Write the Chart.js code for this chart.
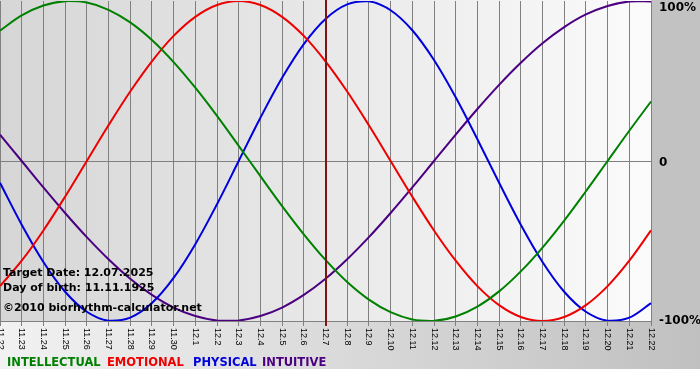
<!DOCTYPE html>
<html>
<head>
<meta charset="utf-8">
<script src="https://cdn.jsdelivr.net/npm/chart.js@4/dist/chart.umd.min.js"></script>
<style>
  html, body { margin: 0; padding: 0; background: #fff; }
  #bioChart { display: block; }
</style>
</head>
<body>
<canvas id="bioChart" width="700" height="380"></canvas>
<script>
// Biorhythm data (-1 .. 1)
const days = ["11.22", "11.23", "11.24", "11.25", "11.26", "11.27", "11.28", "11.29", "11.30",
    "12.1", "12.2", "12.3", "12.4", "12.5", "12.6", "12.7", "12.8", "12.9", "12.10", "12.11",
    "12.12", "12.13", "12.14", "12.15", "12.16", "12.17", "12.18", "12.19", "12.20", "12.21", "12.22"];

const intellectual = [0.815, 0.910, 0.972, 0.999, 0.990, 0.945, 0.866, 0.756, 0.618, 0.458, 0.282, 0.095,
    -0.095, -0.282, -0.458, -0.618, -0.756, -0.866, -0.945, -0.990, -0.999, -0.972, -0.910, -0.815,
    -0.690, -0.541, -0.372, -0.189, 0.000, 0.189, 0.372];
const emotional = [-0.782, -0.623, -0.434, -0.223, 0.000, 0.223, 0.434, 0.623, 0.782, 0.901, 0.975, 1.000,
    0.975, 0.901, 0.782, 0.623, 0.434, 0.223, 0.000, -0.223, -0.434, -0.623, -0.782, -0.901,
    -0.975, -1.000, -0.975, -0.901, -0.782, -0.623, -0.434];
const physical = [-0.136, -0.398, -0.631, -0.817, -0.942, -0.998, -0.979, -0.888, -0.731, -0.520, -0.270, 0.000,
    0.270, 0.520, 0.731, 0.888, 0.979, 0.998, 0.942, 0.817, 0.631, 0.398, 0.136, -0.136,
    -0.398, -0.631, -0.817, -0.942, -0.998, -0.979, -0.888];
const intuitive = [0.165, 0.000, -0.165, -0.325, -0.476, -0.614, -0.736, -0.837, -0.916, -0.969, -0.997, -0.997,
    -0.969, -0.916, -0.837, -0.736, -0.614, -0.476, -0.325, -0.165, 0.000, 0.165, 0.325, 0.476,
    0.614, 0.736, 0.837, 0.916, 0.969, 0.997, 0.997];

const yTicks = [1, 0, -1];
const yTickLabels = ["100%", "0", "-100%"];
const targetDay = "12.7";
const infoLines = ["Target Date: 12.07.2025", "Day of birth: 11.11.1925", "\u00a92010 biorhythm-calculator.net"];
const legendNames = ["INTELLECTUAL", "EMOTIONAL", "PHYSICAL", "INTUITIVE"];
const colors = ["#008000", "#ee0000", "#0000dd", "#4b0082"];

document.addEventListener("DOMContentLoaded", function () {
    const ctx = document.getElementById("bioChart");

    // backgrounds: gradient plot area, grey right panel, grey band under the axis
    const backgroundPlugin = {
        id: "bioBackground",
        beforeDraw(chart) {
            const c = chart.ctx;
            const a = chart.chartArea;
            c.save();
            c.fillStyle = "#ffffff";
            c.fillRect(0, 0, chart.width, chart.height);

            let g = c.createLinearGradient(0, 0, chart.width, 0);
            g.addColorStop(0, "#f2f2f2");
            g.addColorStop(1, "#c0c0c0");
            c.fillStyle = g;
            c.fillRect(0, a.bottom, chart.width, 369 - a.bottom);

            c.fillStyle = "#c2c2c2";
            c.fillRect(a.right, 0, chart.width - a.right, a.bottom);

            g = c.createLinearGradient(a.left, 0, a.right, 0);
            g.addColorStop(0, "#d6d6d6");
            g.addColorStop(1, "#fbfbfb");
            c.fillStyle = g;
            c.fillRect(a.left, a.top - 1, a.right - a.left, a.bottom - a.top + 1);
            c.restore();
        }
    };

    // labels, target line, info text, legend
    const overlayPlugin = {
        id: "bioOverlay",
        afterDatasetsDraw(chart) {
            const c = chart.ctx;
            const a = chart.chartArea;
            const xs = chart.scales.x;
            const ys = chart.scales.y;
            c.save();

            // target date line
            const tx = Math.round(xs.getPixelForValue(days.indexOf(targetDay)));
            c.strokeStyle = "#7e1414";
            c.lineWidth = 2;
            c.beginPath();
            c.moveTo(tx, 0);
            c.lineTo(tx, a.bottom + 5);
            c.stroke();

            // x labels, rotated to read top-down
            c.fillStyle = "#000000";
            c.font = "9px 'Liberation Sans'";
            c.textAlign = "left";
            c.textBaseline = "middle";
            days.forEach((d, i) => {
                const x = xs.getPixelForValue(i);
                c.save();
                c.translate(x, a.bottom + 7);
                c.rotate(Math.PI / 2);
                c.fillText(d, 0, 0);
                c.restore();
            });

            // y labels on the right panel
            c.font = "bold 12px 'DejaVu Sans'";
            c.textBaseline = "middle";
            yTicks.forEach((v, i) => {
                let y = ys.getPixelForValue(v);
                if (v === 1) y += 7;
                if (v === 0) y += 2;
                c.fillText(yTickLabels[i], a.right + 8, y);
            });

            // info text
            c.font = "bold 11px 'DejaVu Sans'";
            c.textBaseline = "alphabetic";
            c.fillText(infoLines[0], 3, 276);
            c.fillText(infoLines[1], 3, 291);
            c.fillText(infoLines[2], 3, 311);

            // legend
            c.font = "bold 11.5px 'DejaVu Sans'";
            const lx = [7, 107, 193, 262];
            legendNames.forEach((name, i) => {
                c.fillStyle = colors[i];
                c.fillText(name, lx[i], 366);
            });
            c.restore();
        }
    };

    const lineSet = (label, data, color) => ({
        label: label,
        data: data,
        borderColor: color,
        borderWidth: 2,
        pointRadius: 0,
        tension: 0.35,
        fill: false
    });

    new Chart(ctx, {
        type: "line",
        data: {
            labels: days,
            datasets: [
                lineSet("INTELLECTUAL", intellectual, colors[0]),
                lineSet("EMOTIONAL", emotional, colors[1]),
                lineSet("PHYSICAL", physical, colors[2]),
                lineSet("INTUITIVE", intuitive, colors[3])
            ]
        },
        options: {
            responsive: false,
            animation: false,
            layout: { padding: { left: 0, right: 49, top: 1, bottom: 54 } },
            plugins: {
                legend: { display: false },
                tooltip: { enabled: false }
            },
            scales: {
                x: {
                    offset: false,
                    grid: { color: "#808080", lineWidth: 1, drawTicks: true, tickLength: 5 },
                    border: { display: true, color: "#808080" },
                    ticks: { display: false, autoSkip: false }
                },
                y: {
                    position: "right",
                    min: -1,
                    max: 1,
                    grid: {
                        drawTicks: false,
                        color: c => c.tick && c.tick.value === 0 ? "#808080" : "rgba(0,0,0,0)"
                    },
                    border: { display: false },
                    ticks: { display: false, stepSize: 1 }
                }
            }
        },
        plugins: [backgroundPlugin, overlayPlugin]
    });
});
</script>
</body>
</html>
